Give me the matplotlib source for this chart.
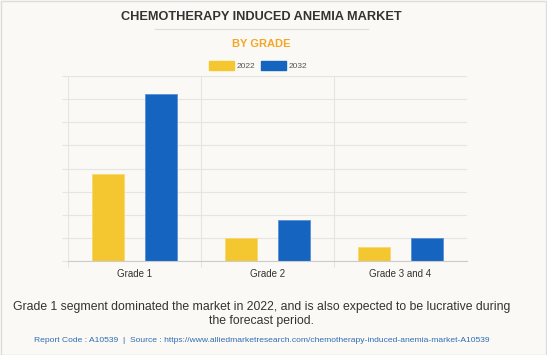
import numpy as np
import matplotlib
matplotlib.use("Agg")
import matplotlib.pyplot as plt
from matplotlib.patches import Rectangle
from matplotlib.lines import Line2D

categories = ["Grade 1", "Grade 2", "Grade 3 and 4"]
years = ["2022", "2032"]
values_2022 = [3.78, 1.0, 0.59]
values_2032 = [7.22, 1.79, 1.0]

colours = ["#F4C630", "#1565C0"]
bg = "#FAF9F5"
grid_col = "#E6E5E1"

plt.rcParams["font.family"] = ["Liberation Sans", "DejaVu Sans"]

W, H = 547, 355
cx = 261.5 / W  # text block centre
fig = plt.figure(figsize=(W / 100, H / 100), dpi=100, facecolor=bg)

# thin border round the picture
fig.add_artist(Rectangle((0.5 / W, 0.5 / H), 1 - 1.5 / W, 1 - 1.5 / H, transform=fig.transFigure,
                         fill=False, edgecolor="#DDDDDD", linewidth=1))

ax = fig.add_axes([68 / W, (H - 261) / H, 399 / W, 185 / H], facecolor=bg)

x = np.arange(len(categories))
w = 0.238
ax.bar(x - 0.2, values_2022, w, color=colours[0], edgecolor="#F8D870", linewidth=0.6, zorder=3)
ax.bar(x + 0.2, values_2032, w, color=colours[1], edgecolor="#5A8FD6", linewidth=0.6, zorder=3)

ax.set_xlim(-0.5, 2.5)
ax.set_ylim(0, 8)
ax.set_yticks(np.arange(0, 9, 1))
ax.set_yticklabels([])
ax.set_xticks(x)
ax.set_xticklabels(categories, fontsize=7, color="#333333")
ax.set_xticks([-0.5, 0.5, 1.5], minor=True)
ax.tick_params(axis="x", which="major", length=0, pad=6)
ax.tick_params(axis="x", which="minor", length=4.3, color=grid_col, width=0.8)
ax.tick_params(axis="y", length=4.3, color=grid_col, width=0.8)
ax.grid(axis="y", which="major", color=grid_col, linewidth=0.8, zorder=0)
ax.grid(axis="x", which="minor", color=grid_col, linewidth=0.8, zorder=0)
for s in ["top", "right", "left"]:
    ax.spines[s].set_visible(False)
ax.spines["bottom"].set_color("#CCCCCC")
ax.spines["bottom"].set_linewidth(0.8)
ax.spines["bottom"].set_zorder(4)

# titles
fig.text(cx, 1 - 17 / H, "CHEMOTHERAPY INDUCED ANEMIA MARKET", ha="center", va="center",
         fontsize=9.2, fontweight="bold", color="#333333")
fig.add_artist(Line2D([155 / W, 368 / W], [1 - 28.5 / H] * 2, transform=fig.transFigure,
                      color="#DDDDDD", linewidth=0.8))
fig.text(cx, 1 - 44 / H, "BY GRADE", ha="center", va="center",
         fontsize=8, fontweight="bold", color="#F5A623")

# legend
leg_handles = [Rectangle((0, 0), 1, 1, color=c) for c in colours]
fig.legend(leg_handles, years, loc="center", bbox_to_anchor=(258 / W, 1 - 65.5 / H), ncol=2,
           frameon=False, fontsize=6, handlelength=3.0, handleheight=1.2,
           columnspacing=0.6, handletextpad=0.35, labelcolor="#555555")

fig.text(cx, 1 - 314 / H,
         "Grade 1 segment dominated the market in 2022, and is also expected to be lucrative during\nthe forecast period.",
         ha="center", va="center", fontsize=8.8, color="#333333", linespacing=1.3)
fig.text(cx, 1 - 341 / H,
         "Report Code : A10539  |  Source : https://www.alliedmarketresearch.com/chemotherapy-induced-anemia-market-A10539",
         ha="center", va="center", fontsize=6.1, color="#2F6DB5")

fig.savefig("out.png", dpi=100, facecolor=bg)
